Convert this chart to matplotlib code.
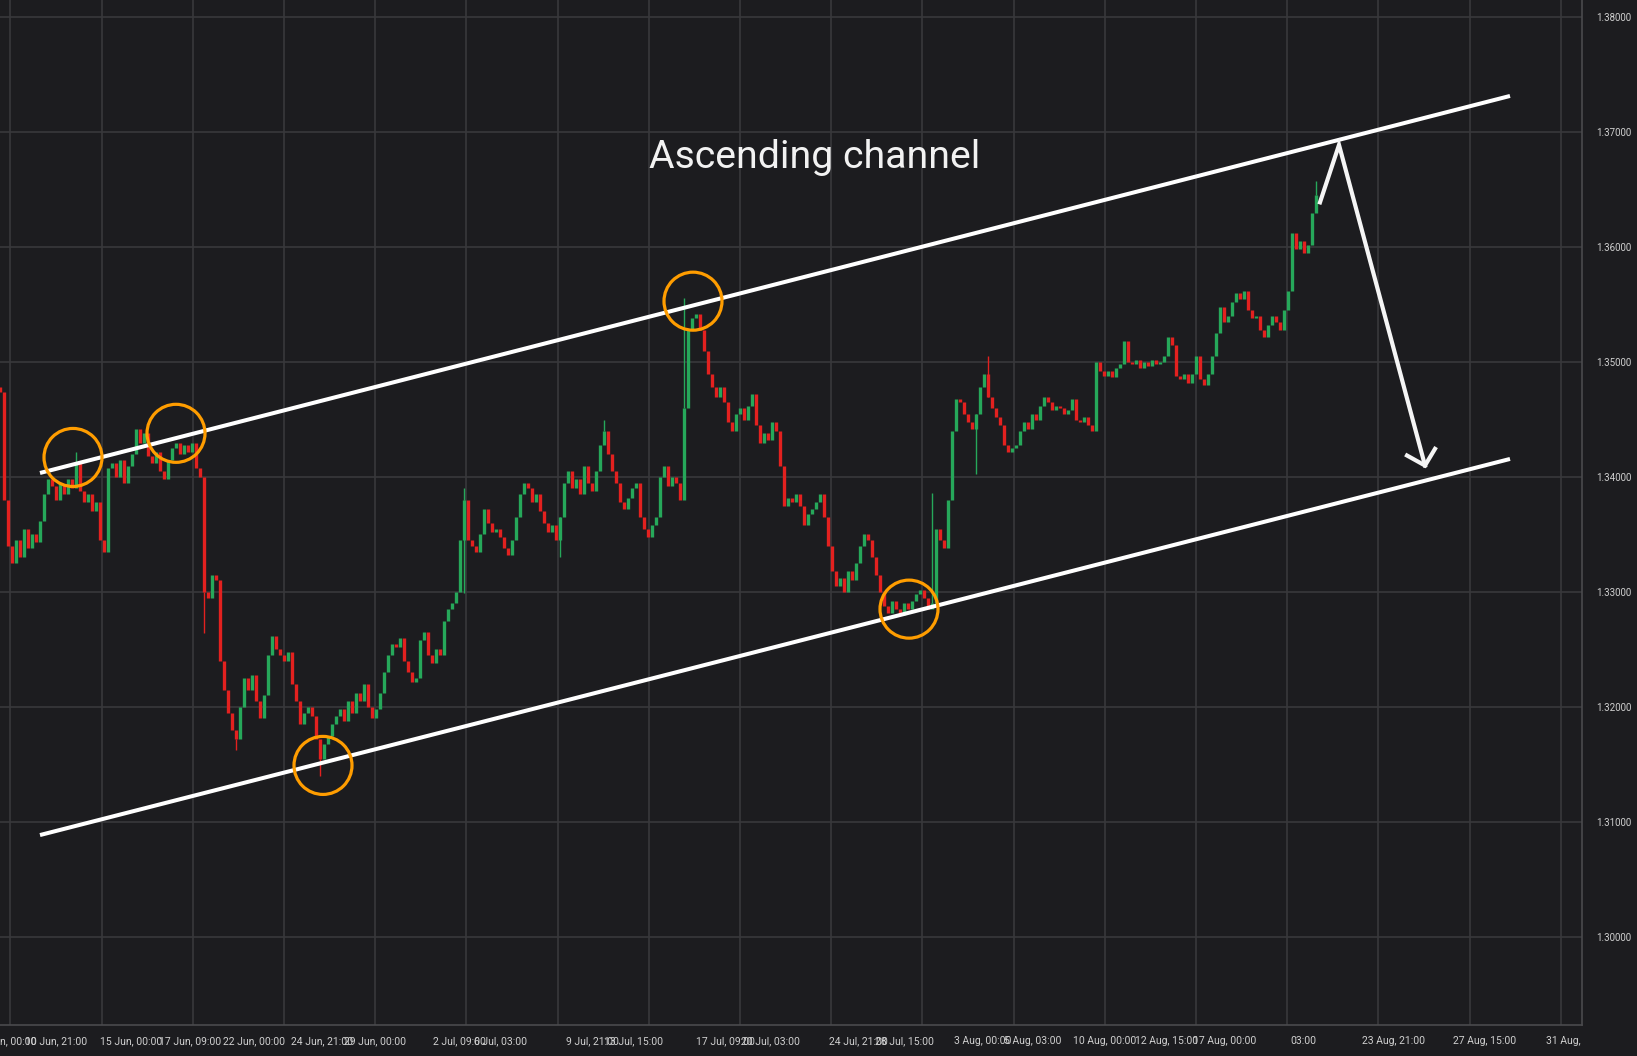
import numpy as np
import matplotlib.pyplot as plt
from matplotlib.patches import Ellipse

# hourly closes, one value per plotted bar
closes = [
    1.3474, 1.3380, 1.3340, 1.3325, 1.3345, 1.3330, 1.3355, 1.3338, 1.3350, 1.3343,
    1.3362, 1.3385, 1.3398, 1.3392, 1.3380, 1.3394, 1.3385, 1.3398, 1.3390, 1.3412,
    1.3388, 1.3378, 1.3385, 1.3370, 1.3378, 1.3345, 1.3335, 1.3408, 1.3412, 1.3400,
    1.3415, 1.3395, 1.3410, 1.3420, 1.3442, 1.3430, 1.3438, 1.3418, 1.3412, 1.3422,
    1.3405, 1.3398, 1.3415, 1.3425, 1.3430, 1.3420, 1.3428, 1.3422, 1.3430, 1.3408,
    1.3400, 1.3300, 1.3295, 1.3315, 1.3310, 1.3240, 1.3215, 1.3195, 1.3180, 1.3172,
    1.3200, 1.3225, 1.3215, 1.3228, 1.3205, 1.3190, 1.3210, 1.3245, 1.3262, 1.3250,
    1.3245, 1.3240, 1.3248, 1.3220, 1.3205, 1.3185, 1.3195, 1.3200, 1.3192, 1.3172,
    1.3155, 1.3168, 1.3175, 1.3185, 1.3192, 1.3198, 1.3188, 1.3205, 1.3195, 1.3212,
    1.3205, 1.3220, 1.3200, 1.3190, 1.3198, 1.3212, 1.3230, 1.3245, 1.3255, 1.3252,
    1.3260, 1.3240, 1.3230, 1.3222, 1.3225, 1.3258, 1.3265, 1.3245, 1.3238, 1.3250,
    1.3245, 1.3275, 1.3285, 1.3290, 1.3300, 1.3345, 1.3380, 1.3345, 1.3340, 1.3335,
    1.3350, 1.3372, 1.3360, 1.3352, 1.3355, 1.3348, 1.3338, 1.3332, 1.3345, 1.3365,
    1.3385, 1.3395, 1.3390, 1.3378, 1.3385, 1.3370, 1.3360, 1.3352, 1.3358, 1.3345,
    1.3365, 1.3395, 1.3405, 1.3390, 1.3398, 1.3385, 1.3410, 1.3395, 1.3388, 1.3405,
    1.3428, 1.3440, 1.3420, 1.3405, 1.3395, 1.3378, 1.3372, 1.3382, 1.3390, 1.3395,
    1.3365, 1.3355, 1.3348, 1.3358, 1.3365, 1.3400, 1.3410, 1.3392, 1.3400, 1.3395,
    1.3380, 1.3460, 1.3528, 1.3538, 1.3542, 1.3528, 1.3510, 1.3490, 1.3478, 1.3470,
    1.3478, 1.3465, 1.3448, 1.3440, 1.3455, 1.3460, 1.3450, 1.3462, 1.3472, 1.3445,
    1.3430, 1.3438, 1.3432, 1.3448, 1.3440, 1.3410, 1.3375, 1.3382, 1.3378, 1.3385,
    1.3375, 1.3358, 1.3368, 1.3372, 1.3378, 1.3385, 1.3365, 1.3340, 1.3318, 1.3305,
    1.3312, 1.3300, 1.3318, 1.3310, 1.3325, 1.3340, 1.3350, 1.3345, 1.3330, 1.3315,
    1.3300, 1.3288, 1.3282, 1.3292, 1.3285, 1.3280, 1.3290, 1.3285, 1.3292, 1.3298,
    1.3302, 1.3295, 1.3285, 1.3290, 1.3355, 1.3345, 1.3338, 1.3380, 1.3440, 1.3468,
    1.3465, 1.3455, 1.3448, 1.3442, 1.3455, 1.3478, 1.3490, 1.3470, 1.3460, 1.3452,
    1.3445, 1.3428, 1.3422, 1.3425, 1.3428, 1.3440, 1.3448, 1.3442, 1.3455, 1.3450,
    1.3462, 1.3470, 1.3465, 1.3458, 1.3462, 1.3460, 1.3455, 1.3458, 1.3468, 1.3450,
    1.3448, 1.3452, 1.3445, 1.3440, 1.3500, 1.3492, 1.3488, 1.3492, 1.3487, 1.3495,
    1.3498, 1.3518, 1.3500, 1.3498, 1.3502, 1.3495, 1.3500, 1.3497, 1.3502, 1.3498,
    1.3500, 1.3505, 1.3522, 1.3515, 1.3488, 1.3485, 1.3490, 1.3482, 1.3490, 1.3505,
    1.3485, 1.3480, 1.3490, 1.3505, 1.3525, 1.3548, 1.3535, 1.3540, 1.3552, 1.3560,
    1.3555, 1.3562, 1.3545, 1.3538, 1.3540, 1.3528, 1.3522, 1.3532, 1.3540, 1.3535,
    1.3528, 1.3545, 1.3562, 1.3612, 1.3598, 1.3605, 1.3595, 1.3602, 1.3630, 1.3645,
]
first_open = 1.3478

# long wicks (bar, price)
wick_bars = [19, 51, 59, 80, 116, 116, 140, 151, 171, 233, 244, 247, 329]
wick_prices = [1.3422, 1.3264, 1.3162, 1.3140, 1.3390, 1.3299, 1.3330, 1.3450,
               1.3556, 1.3386, 1.3403, 1.3505, 1.3658]

# channel, touches, projected move
upper_x = [10, 377.5]
upper_y = [1.34035, 1.37316]
lower_x = [10, 377.5]
lower_y = [1.30884, 1.34157]
touch_x = [18.25, 44, 173.25, 80.75, 227.25]
touch_y = [1.3417, 1.3438, 1.3553, 1.3149, 1.3285]
arrow_x = [330, 334.75, 356.25]
arrow_y = [1.3639, 1.3689, 1.3410]
head_x = [351.75, 356.25, 358.75]
head_y = [1.34187, 1.3410, 1.34245]

price_ticks = [1.30, 1.31, 1.32, 1.33, 1.34, 1.35, 1.36, 1.37, 1.38]
date_labels = ['8 Jun, 00:00', '10 Jun, 21:00', '15 Jun, 00:00', '17 Jun, 09:00',
               '22 Jun, 00:00', '24 Jun, 21:00', '29 Jun, 00:00', '2 Jul, 09:00',
               '6 Jul, 03:00', '9 Jul, 21:00', '13 Jul, 15:00', '17 Jul, 09:00',
               '20 Jul, 03:00', '24 Jul, 21:00', '28 Jul, 15:00', '3 Aug, 00:00',
               '5 Aug, 03:00', '10 Aug, 00:00', '12 Aug, 15:00', '17 Aug, 00:00',
               '03:00', '23 Aug, 21:00', '27 Aug, 15:00']
date_pos = [2, 14, 32.75, 47.5, 63.5, 80.5, 93.75, 114.75, 125.25, 148, 158.5,
            181.25, 192.5, 214.5, 226, 245.75, 258.25, 276.25, 291.75, 306.25,
            325.75, 348.5, 371.25]
grid_x = [2.6 + 22.8 * k for k in range(18)]

bg = '#1c1c1f'
grid_c = '#38383b'
txt_c = '#cfcfcf'

fig = plt.figure(figsize=(16.37, 10.56), dpi=100, facecolor=bg)
ax = fig.add_axes([0, 31 / 1056, 1582 / 1637, 1025 / 1056])
ax.set_facecolor(bg)
ax.set_xlim(0, 395.5)
ax.set_ylim(1.29231, 1.38151)

for gx in grid_x:
    ax.axvline(gx, color=grid_c, lw=1.2, zorder=0)
for gy in price_ticks:
    ax.axhline(gy, color=grid_c, lw=1.2, zorder=0)

c = np.array(closes)
o = np.concatenate([[first_open], c[:-1]])
x = np.arange(len(c))
up = c >= o
cols = np.where(up, '#26a85a', '#e3211f')
ax.vlines(x, np.minimum(o, c), np.maximum(o, c), colors=cols, lw=2.4, zorder=2)
for wb, wp in zip(wick_bars, wick_prices):
    ref = c[wb]
    ax.vlines(wb, min(ref, wp), max(ref, wp), colors=cols[wb], lw=1.0, zorder=2)

ax.plot(upper_x, upper_y, color='white', lw=2.9, solid_capstyle='butt', zorder=4)
ax.plot(lower_x, lower_y, color='white', lw=2.9, solid_capstyle='butt', zorder=4)
for tx, ty in zip(touch_x, touch_y):
    ax.add_patch(Ellipse((tx, ty), 14.5, 0.00505, fill=False,
                         edgecolor='#ff9d00', lw=2.3, zorder=5))
ax.plot(arrow_x, arrow_y, color='#f5f5f5', lw=3.0, solid_joinstyle='miter', zorder=5)
ax.plot(head_x, head_y, color='#f5f5f5', lw=3.0, solid_joinstyle='miter', zorder=5)

ax.text(203.75, 1.36689, 'Ascending channel', color='#f2f2f2', fontsize=28.3,
        family='Roboto', ha='center', va='baseline', zorder=6)

for sp in ['top', 'left']:
    ax.spines[sp].set_visible(False)
ax.spines['right'].set_color('#4a4a4d')
ax.spines['bottom'].set_color('#4a4a4d')
ax.spines['right'].set_linewidth(1.2)
ax.spines['bottom'].set_linewidth(1.2)

ax.yaxis.tick_right()
ax.set_yticks(price_ticks)
ax.set_yticklabels([f'{p:.5f}' for p in price_ticks])
ax.tick_params(axis='y', length=0, pad=10, labelsize=7, labelcolor=txt_c)
ax.set_xticks(date_pos)
ax.set_xticklabels(date_labels)
ax.tick_params(axis='x', length=0, pad=8, labelsize=7.5, labelcolor=txt_c)
for lab in ax.get_xticklabels() + ax.get_yticklabels():
    lab.set_family('Roboto')
fig.text(1546 / 1637, 15 / 1056, '31 Aug,', color=txt_c, fontsize=7.5,
         family='Roboto', ha='left', va='center')

fig.savefig('out.png', dpi=100, facecolor=bg)
